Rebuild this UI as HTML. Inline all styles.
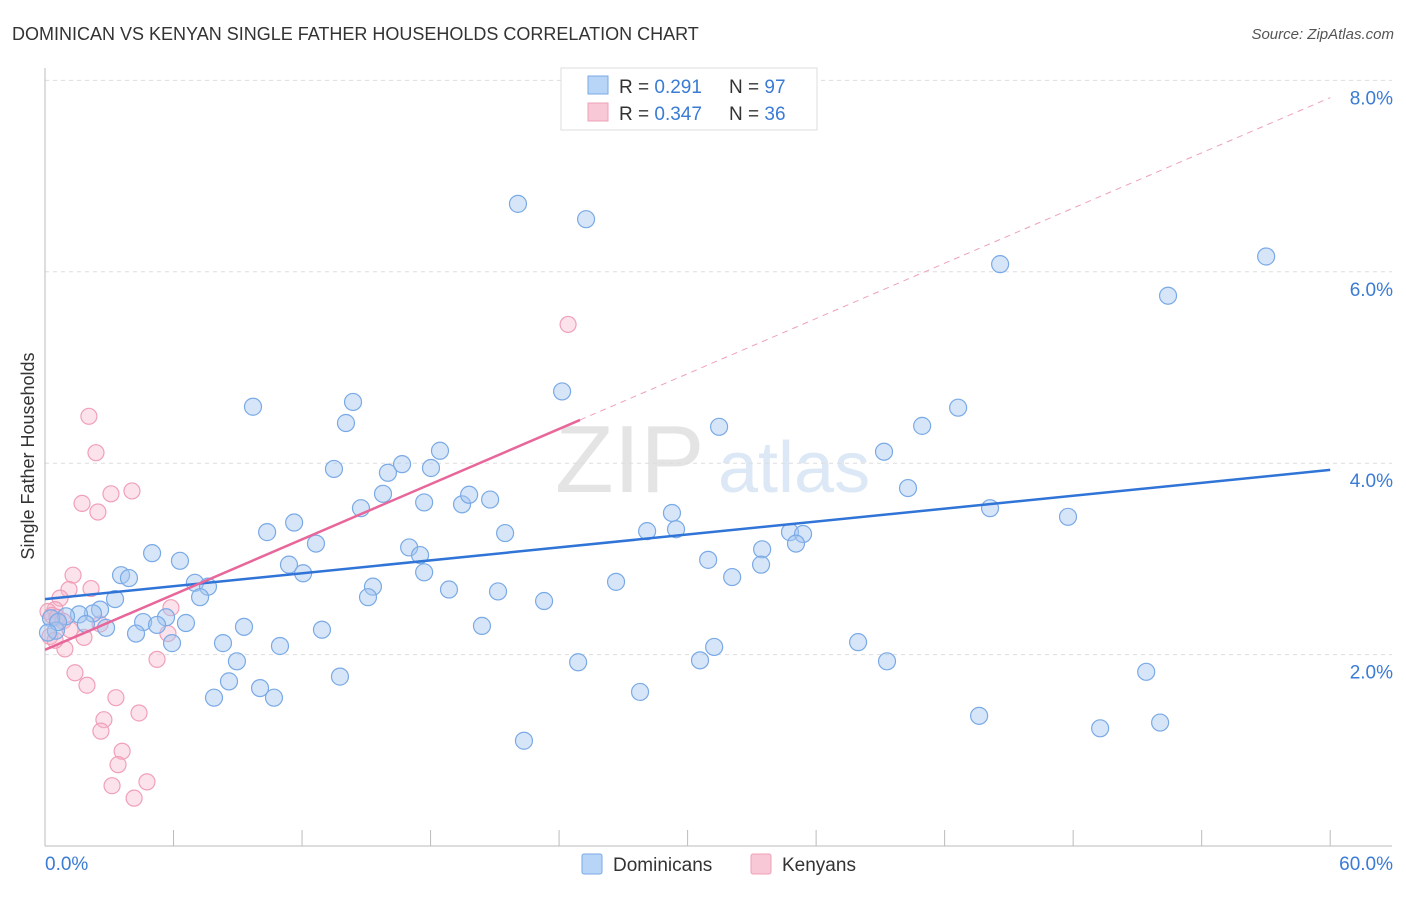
<!DOCTYPE html>
<html><head><meta charset="utf-8"><style>
body{margin:0;background:#fff;font-family:"Liberation Sans",sans-serif;}
svg text{font-family:"Liberation Sans",sans-serif;}
</style></head><body>
<svg id="chart" width="1406" height="892">
<text x="12" y="40" font-size="18" fill="#333">DOMINICAN VS KENYAN SINGLE FATHER HOUSEHOLDS CORRELATION CHART</text>
<text x="1394" y="39" font-size="15" fill="#555" font-style="italic" text-anchor="end">Source: ZipAtlas.com</text>
<text x="34" y="456" font-size="18" fill="#333" text-anchor="middle" transform="rotate(-90 34 456)">Single Father Households</text>
<g><text x="555" y="492" font-size="96" fill="#e4e4e4" font-family="Liberation Serif">ZIP</text><text x="718" y="492" font-size="72" fill="#dce8f6">atlas</text></g>
<g id="grid"></g><g id="axes"></g><g id="pts"></g><g id="lines"></g>
<g>
<rect x="561" y="68" width="256" height="62" fill="#fff" stroke="#ddd"/>
<rect x="588" y="76" width="20" height="18" fill="#b8d4f6" stroke="#7aaae6"/>
<rect x="588" y="103" width="20" height="18" fill="#f9c8d6" stroke="#f0a0b8"/>
<text x="619" y="93" font-size="19" fill="#333">R = <tspan fill="#3a7bd5"> 0.291</tspan><tspan x="729">N = </tspan><tspan fill="#3a7bd5">97</tspan></text>
<text x="619" y="120" font-size="19" fill="#333">R = <tspan fill="#3a7bd5">0.347</tspan><tspan x="729">N = </tspan><tspan fill="#3a7bd5">36</tspan></text>
</g>
<g>
<rect x="582" y="854" width="20" height="20" fill="#b8d4f6" stroke="#7aaae6" rx="2"/>
<text x="613" y="871" font-size="19" fill="#333">Dominicans</text>
<rect x="751" y="854" width="20" height="20" fill="#f9c8d6" stroke="#f0a0b8" rx="2"/>
<text x="782" y="871" font-size="19" fill="#333">Kenyans</text>
</g>
</svg>
<script>
const yTicks=[2,4,6,8];
const xTickLabels=["0.0%","60.0%"];
const domX=[22.08,25.26,44.59,57.01,52.43,24.14,9.71,14.38,14.05,42.63,31.47,40.95,18.44,39.17,13.49,16.01,16.67,18.02,40.29,15.78,14.75,17.70,19.47,19.80,20.78,44.12,47.76,29.27,11.63,10.37,21.48,28.11,29.46,34.78,35.39,5.00,12.65,17.00,17.51,6.30,33.48,35.06,30.96,11.39,12.05,17.70,3.55,3.92,32.08,33.43,26.66,7.00,7.61,15.31,7.24,18.86,21.15,15.08,3.27,23.30,2.57,2.24,1.59,0.98,0.28,5.65,4.58,5.23,6.58,9.29,2.85,1.91,0.51,4.25,20.40,12.93,5.93,8.31,10.97,37.96,31.24,8.96,24.89,30.58,39.31,51.41,8.59,13.77,10.04,7.89,10.69,27.78,43.61,52.06,49.26,22.36,0.61,0.14];
const domY=[6.71,6.55,6.08,6.16,5.75,4.75,4.59,4.64,4.42,4.58,4.38,4.39,4.13,4.12,3.94,3.90,3.99,3.95,3.74,3.68,3.53,3.59,3.57,3.67,3.62,3.53,3.44,3.48,3.38,3.28,3.27,3.29,3.31,3.28,3.26,3.06,3.16,3.12,3.04,2.98,3.10,3.16,2.99,2.94,2.85,2.86,2.83,2.80,2.81,2.94,2.76,2.75,2.71,2.71,2.60,2.68,2.66,2.60,2.58,2.56,2.47,2.43,2.42,2.40,2.38,2.39,2.34,2.31,2.33,2.29,2.28,2.32,2.25,2.22,2.30,2.26,2.12,2.12,2.09,2.13,2.08,1.93,1.92,1.94,1.93,1.82,1.72,1.77,1.65,1.55,1.55,1.61,1.36,1.29,1.23,1.10,2.34,2.23];
const kenX=[24.42,2.05,2.38,1.73,3.08,4.06,2.47,1.31,2.15,1.12,0.70,5.88,0.47,0.14,0.33,0.56,0.84,2.57,1.17,0.23,1.82,5.74,0.93,5.23,1.40,1.96,3.31,4.39,2.75,2.61,3.60,3.41,4.76,3.13,4.16,0.47];
const kenY=[5.45,4.49,4.11,3.58,3.68,3.71,3.49,2.83,2.69,2.68,2.59,2.49,2.47,2.45,2.41,2.39,2.35,2.32,2.26,2.19,2.18,2.22,2.06,1.95,1.81,1.68,1.55,1.39,1.32,1.20,0.99,0.85,0.67,0.63,0.50,2.15];
const domTrend=[2.58,3.93];
const kenTrend=[2.05,7.82];
const kenSolidEnd=24.98;
const NS="http://www.w3.org/2000/svg";
const sx=v=>45+v*21.42, sy=v=>846-v*95.7;
function mk(tag,attrs,parent){const e=document.createElementNS(NS,tag);for(const k in attrs)e.setAttribute(k,attrs[k]);document.getElementById(parent).appendChild(e);return e;}
yTicks.forEach(t=>{
 const l=mk('line',{x1:45,x2:1392,y1:sy(t),y2:sy(t),stroke:'#ddd','stroke-dasharray':'4,4'},'grid');
 
 
 const tx=mk('text',{x:1393,y:sy(t)+24,'font-size':19,fill:'#3a7bd5','text-anchor':'end'},'grid');
 tx.textContent=t.toFixed(1)+'%';
 
 
});
const ax=mk('line',{x1:45,x2:1392,y1:846,y2:846,stroke:'#bbb'},'axes');


const ay=mk('line',{x1:45,x2:45,y1:68,y2:846,stroke:'#bbb'},'axes');


for(let i=0;i<=10;i++){const t=mk('line',{x1:sx(i*6),x2:sx(i*6),y1:830,y2:846,stroke:'#bbb'},'axes');
 
 }
[[0,'start',45],[60,'end',1393]].forEach((d,i)=>{const t=mk('text',{x:d[2],y:870,'font-size':19,fill:'#3a7bd5','text-anchor':d[1]},'axes');t.textContent=xTickLabels[i];
 
 });
kenX.forEach((x,i)=>{const c=mk('circle',{cx:sx(x),cy:sy(kenY[i]),r:8,fill:'rgba(248,182,202,0.4)',stroke:'#f0a0b8','stroke-width':1.2},'pts');
 
 });
domX.forEach((x,i)=>{const c=mk('circle',{cx:sx(x),cy:sy(domY[i]),r:8.5,fill:'rgba(165,198,240,0.45)',stroke:'#7aaae6','stroke-width':1.2},'pts');
 
 });
const bl=mk('line',{x1:sx(0),y1:sy(domTrend[0]),x2:sx(60),y2:sy(domTrend[1]),stroke:'#2f74d6','stroke-width':2.5},'lines');


const kv=x=>kenTrend[0]+(kenTrend[1]-kenTrend[0])*x/60;
const pl=mk('line',{x1:sx(0),y1:sy(kv(0)),x2:sx(kenSolidEnd),y2:sy(kv(kenSolidEnd)),stroke:'#e8679a','stroke-width':2.5},'lines');


const pd=mk('line',{x1:sx(kenSolidEnd),y1:sy(kv(kenSolidEnd)),x2:sx(60),y2:sy(kv(60)),stroke:'#eea0bc','stroke-width':1,'stroke-dasharray':'6,5'},'lines');


</script>
</body></html>
